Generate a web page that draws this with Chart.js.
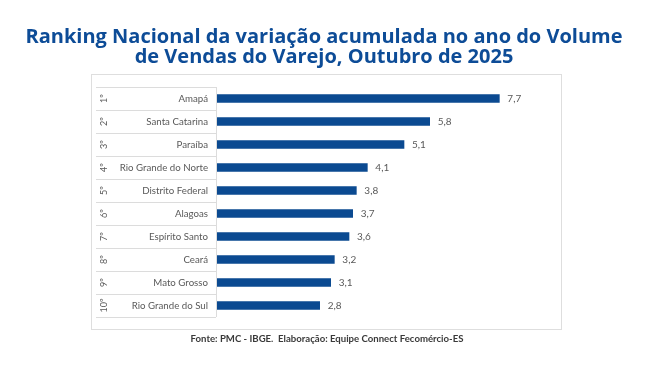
<!DOCTYPE html>
<html>
<head>
<meta charset="utf-8">
<script src="https://cdn.jsdelivr.net/npm/chart.js@4"></script>
<style>
html,body{margin:0;padding:0;background:#fff;}
#wrap{width:660px;height:365px;position:relative;}
</style>
</head>
<body>
<div id="wrap"><canvas id="c" width="660" height="365"></canvas></div>
<script>
const titleLines = ["Ranking Nacional da variação acumulada no ano do Volume", "de Vendas do Varejo, Outubro de 2025"];
const footerText = "Fonte: PMC - IBGE.  Elaboração: Equipe Connect Fecomércio-ES";
const states = ["Amapá","Santa Catarina","Paraíba","Rio Grande do Norte","Distrito Federal","Alagoas","Espírito Santo","Ceará","Mato Grosso","Rio Grande do Sul"];
const ranks = ["1º","2º","3º","4º","5º","6º","7º","8º","9º","10º"];
const values = [7.7,5.8,5.1,4.1,3.8,3.7,3.6,3.2,3.1,2.8];

const BLUE = '#0b4a91';
const GRAY = '#595959';

const decor = {
  id: 'decor',
  beforeDraw(chart) {
    const ctx = chart.ctx;
    ctx.save();
    ctx.fillStyle = '#fff';
    ctx.fillRect(0, 0, chart.width, chart.height);
    // outer box
    ctx.strokeStyle = '#dedede';
    ctx.lineWidth = 1;
    ctx.strokeRect(91.5, 74.5, 470, 255);
    // title
    ctx.fillStyle = '#0d4c97';
    ctx.font = 'bold 20px "Open Sans"';
    ctx.textAlign = 'center';
    ctx.textBaseline = 'middle';
    ctx.fillText(titleLines[0], 324, 37);
    ctx.fillText(titleLines[1], 324, 57);
    // footer
    ctx.fillStyle = '#3a3a3a';
    ctx.font = 'bold 9.6px Lato';
    ctx.fillText(footerText, 327, 339);
    // table lines
    const ys = chart.scales.y;
    const n = states.length;
    const step = (ys.getPixelForValue(1) - ys.getPixelForValue(0));
    ctx.strokeStyle = '#dcdcdc';
    ctx.beginPath();
    for (let i = 0; i <= n; i++) {
      const y = Math.round(ys.getPixelForValue(i) - step / 2) + 0.5;
      ctx.moveTo(96, y); ctx.lineTo(216, y);
    }
    const top = Math.round(ys.getPixelForValue(0) - step / 2);
    const bot = Math.round(ys.getPixelForValue(n - 1) + step / 2);
    ctx.moveTo(216.5, top); ctx.lineTo(216.5, bot);
    ctx.stroke();
    // ranks rotated
    ctx.fillStyle = GRAY;
    ctx.font = '9px Lato';
    for (let i = 0; i < n; i++) {
      const y = ys.getPixelForValue(i);
      ctx.save();
      ctx.translate(104, y);
      ctx.rotate(-Math.PI / 2);
      ctx.textAlign = 'center';
      ctx.textBaseline = 'middle';
      ctx.fillText(ranks[i], 0, 0);
      ctx.restore();
    }
    ctx.restore();
  },
  afterDatasetsDraw(chart) {
    const ctx = chart.ctx;
    ctx.save();
    ctx.fillStyle = GRAY;
    ctx.font = '10px Lato';
    ctx.textAlign = 'left';
    ctx.textBaseline = 'middle';
    chart.getDatasetMeta(0).data.forEach((el, i) => {
      ctx.fillText(values[i].toFixed(1).replace('.', ','), el.x + 8, el.y);
    });
    ctx.restore();
  }
};

new Chart(document.getElementById('c'), {
  type: 'bar',
  data: {
    labels: states,
    datasets: [{
      data: values,
      backgroundColor: BLUE,
      barThickness: 8,
      borderWidth: 0
    }]
  },
  options: {
    indexAxis: 'y',
    responsive: false,
    animation: false,
    devicePixelRatio: 1,
    layout: { padding: { left: 0, right: 113, top: 87, bottom: 48 } },
    plugins: { legend: { display: false }, tooltip: { enabled: false }, title: { display: false } },
    scales: {
      x: { display: false, min: 0, max: 9 },
      y: {
        afterFit(scale) { scale.width = 217; },
        grid: { display: false, drawTicks: false },
        border: { display: false },
        ticks: { color: GRAY, font: { family: 'Lato', size: 9.7 }, padding: 9 }
      }
    }
  },
  plugins: [decor]
});
</script>
</body>
</html>
